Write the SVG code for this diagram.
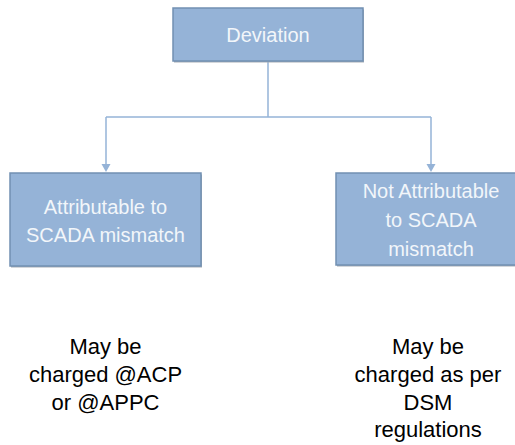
<svg xmlns="http://www.w3.org/2000/svg" width="515" height="445" viewBox="0 0 515 445">
<style>
.box{fill:#95b3d7;stroke:#7290b2;stroke-width:1.5}
.sh{fill:#a7aeb6}
.bt{font-family:"Liberation Sans",Arial,sans-serif;font-size:20px;fill:#f2f6fa;text-anchor:middle}
.lt{font-family:"Liberation Sans",Arial,sans-serif;font-size:22px;fill:#000;text-anchor:middle}
.con{fill:none;stroke:#95b3d7;stroke-width:1.5}
.ah{fill:#95b3d7}
</style>
<rect width="515" height="445" fill="#fff"/>
<g id="connectors">
<path class="con" d="M268,61 V117"/>
<path class="con" d="M106,117 H431"/>
<path class="con" d="M106,117 V165"/>
<path class="con" d="M431,117 V165"/>
<path class="ah" d="M101.5,164 L110.5,164 L106,172 Z"/>
<path class="ah" d="M426.5,164 L435.5,164 L431,172 Z"/>
</g>
<g id="deviation">
<rect class="sh" x="174" y="9.5" width="190" height="53"/>
<rect class="box" x="173" y="8" width="190" height="53"/>
<text class="bt" x="268" y="42" font-size="21">Deviation</text>
</g>
<g id="attributable">
<rect class="sh" x="11" y="174.5" width="191" height="93"/>
<rect class="box" x="10" y="173" width="191" height="93"/>
<text class="bt" x="105.5" y="214">Attributable to</text>
<text class="bt" x="105.5" y="242">SCADA mismatch</text>
</g>
<g id="not-attributable">
<rect class="sh" x="337" y="174.5" width="191" height="92"/>
<rect class="box" x="336" y="173" width="191" height="92"/>
<text class="bt" x="431" y="198">Not Attributable</text>
<text class="bt" x="431" y="227">to SCADA</text>
<text class="bt" x="431" y="256">mismatch</text>
</g>
<g id="note-left">
<text class="lt" x="105.5" y="354">May be</text>
<text class="lt" x="105.5" y="382">charged @ACP</text>
<text class="lt" x="105.5" y="410">or @APPC</text>
</g>
<g id="note-right">
<text class="lt" x="428" y="354">May be</text>
<text class="lt" x="428" y="382">charged as per</text>
<text class="lt" x="428" y="410">DSM</text>
<text class="lt" x="428" y="437">regulations</text>
</g>
</svg>
